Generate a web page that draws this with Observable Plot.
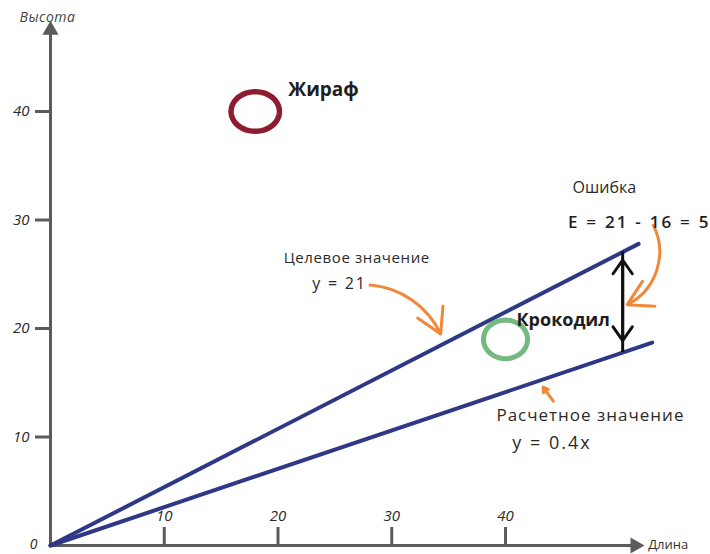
<!DOCTYPE html>
<html>
<head>
<meta charset="utf-8">
<script src="https://cdn.jsdelivr.net/npm/d3@7"></script>
<script src="https://cdn.jsdelivr.net/npm/@observablehq/plot@0.6"></script>
<style>
  body { margin: 0; background: #fff; }
  svg { display: block; }
</style>
</head>
<body>
<div id="chart"></div>
<script>
// ---- data ----
const xTicks = [10, 20, 30, 40];
const yTicks = [10, 20, 30, 40];
const animalNames = ["Жираф", "Крокодил"];
const animalLength = [18, 40];
const animalHeight = [40, 19];
const targetX = [0, 51.7];      // "Целевое значение" line
const targetY = [0, 27.8];
const predictedX = [0, 52.9];   // "Расчетное значение" line
const predictedY = [0, 18.7];
const errorX = 50.3;            // where the error is measured
const axisXEnd = 51.4;
const axisYEnd = 47.5;

const FONT = "'Open Sans', 'DejaVu Sans', sans-serif";
const ink = "#2a2a2a";
const orange = "#f0883a";
const navy = "#2f3886";

const animals = animalNames.map((name, i) => ({name, x: animalLength[i], y: animalHeight[i]}));
const target = targetX.map((x, i) => ({x, y: targetY[i]}));
const predicted = predictedX.map((x, i) => ({x, y: predictedY[i]}));

const yHigh = targetY[1] / targetX[1] * errorX;
const yLow = predictedY[1] / predictedX[1] * errorX;
const yMid = (yHigh + yLow) / 2;

// ellipse symbol (slightly wider than tall, like the sketch)
function ellipseSymbol(sx, sy) {
  return {
    draw(ctx, size) {
      const r = Math.sqrt(size / Math.PI);
      const n = 48;
      for (let k = 0; k <= n; k++) {
        const a = (k / n) * 2 * Math.PI;
        const px = Math.cos(a) * r * sx, py = Math.sin(a) * r * sy;
        if (k === 0) ctx.moveTo(px, py); else ctx.lineTo(px, py);
      }
      ctx.closePath();
    }
  };
}

const txt = (label, x, y, opts = {}) => Plot.text([label], {
  x: () => x, y: () => y, text: d => d,
  fontFamily: FONT, fill: ink, textAnchor: "start", lineAnchor: "middle",
  ...opts
});

const chart = Plot.plot({
  width: 710,
  height: 554,
  marginTop: 0, marginBottom: 9, marginLeft: 50, marginRight: 0,
  x: {domain: [0, 40], range: [50, 505], axis: null},
  y: {domain: [0, 40], range: [545, 111], axis: null},
  style: {fontFamily: FONT, background: "#fff"},
  marks: [
    // axes
    Plot.ruleY([0], {x1: 0, x2: axisXEnd, stroke: "#5b5b5b", strokeWidth: 3}),
    Plot.ruleX([0], {y1: 0, y2: axisYEnd, stroke: "#5b5b5b", strokeWidth: 3}),
    Plot.dot([0], {x: axisXEnd, y: 0, symbol: "triangle", r: 6, fill: "#5b5b5b", rotate: 90}),
    Plot.dot([0], {x: 0, y: axisYEnd, symbol: "triangle", r: 6, fill: "#5b5b5b"}),
    Plot.ruleX(xTicks, {x: d => d, y1: 0, y2: 0, insetTop: -18, stroke: "#5b5b5b", strokeWidth: 3}),
    Plot.ruleY(yTicks, {y: d => d, x1: 0, x2: 0, insetLeft: -15, stroke: "#5b5b5b", strokeWidth: 3}),
    Plot.text(xTicks, {x: d => d, y: 0, dy: -29, text: d => String(d), fontSize: 15, fontStyle: "italic", fill: ink, fontFamily: FONT}),
    Plot.text(yTicks, {x: 0, y: d => d, dx: -21, text: d => String(d), fontSize: 15, fontStyle: "italic", fill: ink, textAnchor: "end", fontFamily: FONT}),
    Plot.text(["0"], {x: 0, y: 0, dx: -17, dy: -1, text: d => d, fontSize: 14, fontStyle: "italic", fill: ink, fontFamily: FONT}),
    Plot.text(["Высота"], {x: 0, y: axisYEnd, dy: -13, dx: -3, text: d => d, fontSize: 14, fontStyle: "italic", fill: "#444", fontFamily: FONT}),
    Plot.text(["Длина"], {x: axisXEnd, y: 0, dx: 13, dy: -1, text: d => d, fontSize: 13, fill: "#333", textAnchor: "start", fontFamily: FONT}),

    // regression lines
    Plot.line(target, {x: "x", y: "y", stroke: navy, strokeWidth: 4}),
    Plot.line(predicted, {x: "x", y: "y", stroke: navy, strokeWidth: 4}),

    // animals
    Plot.dot(animals.slice(0, 1), {x: "x", y: "y", r: 22, symbol: ellipseSymbol(1.1, 0.9), stroke: "#8e1b2e", strokeWidth: 5.5}),
    Plot.dot(animals.slice(1), {x: "x", y: "y", r: 21, symbol: ellipseSymbol(1.05, 0.92), stroke: "#5aad6a", strokeWidth: 5, strokeOpacity: 0.85}),
    Plot.text(animals.slice(0, 1), {x: "x", y: "y", text: "name", dx: 33, dy: -22, fontSize: 19, fontWeight: "bold", fill: "#1e1e1e", textAnchor: "start", fontFamily: FONT}),
    Plot.text(animals.slice(1), {x: "x", y: "y", text: "name", dx: 11, dy: -19, fontSize: 18, fontWeight: "bold", fill: "#1e1e1e", textAnchor: "start", fontFamily: FONT}),

    // error between the two lines
    Plot.ruleX([errorX], {x: d => d, y1: yLow, y2: yHigh, stroke: "#111", strokeWidth: 3}),
    Plot.arrow([0], {x1: errorX, y1: yMid, x2: errorX, y2: yHigh, insetEnd: 8, headLength: 16, headAngle: 70, stroke: "#111", strokeWidth: 3}),
    Plot.arrow([0], {x1: errorX, y1: yMid, x2: errorX, y2: yLow, insetEnd: 12, headLength: 16, headAngle: 70, stroke: "#111", strokeWidth: 3}),

    // orange annotation arrows
    Plot.arrow([0], {x1: 28.1, y1: 24.0, x2: 34.3, y2: 19.5, bend: 30, headLength: 14, stroke: orange, strokeWidth: 3}),
    Plot.arrow([0], {x1: 53.0, y1: 29.5, x2: 50.7, y2: 22.2, bend: 45, headLength: 14, stroke: orange, strokeWidth: 3}),
    Plot.arrow([0], {x1: 44.2, y1: 13.3, x2: 43.3, y2: 14.6, headLength: 10, stroke: orange, strokeWidth: 3}),

    // annotation texts
    txt("Целевое значение", 20.5, 26.45, {fontSize: 15}),
    txt("y = 21", 23.0, 24.15, {fontSize: 16}),
    txt("Ошибка", 45.9, 33.0, {fontSize: 16}),
    txt("E = 21 - 16 = 5", 45.5, 29.77, {fontSize: 17, fontWeight: 600, fill: "#1e1e1e"}),
    txt("Расчетное значение", 39.2, 11.98, {fontSize: 17}),
    txt("y = 0.4x", 40.6, 9.4, {fontSize: 18})
  ]
});

// hand-lettered texts in the sketch are wider: widen their spacing
const spacing = {
  "Целевое значение": 0.6, "y = 21": 1.8, "E = 21 - 16 = 5": 2.2,
  "Расчетное значение": 1, "y = 0.4x": 2, "Высота": 0.5
};
d3.select(chart).selectAll("text").each(function () {
  const s = spacing[this.textContent];
  if (s !== undefined) this.setAttribute("letter-spacing", s);
});
document.getElementById("chart").append(chart);
</script>
</body>
</html>
